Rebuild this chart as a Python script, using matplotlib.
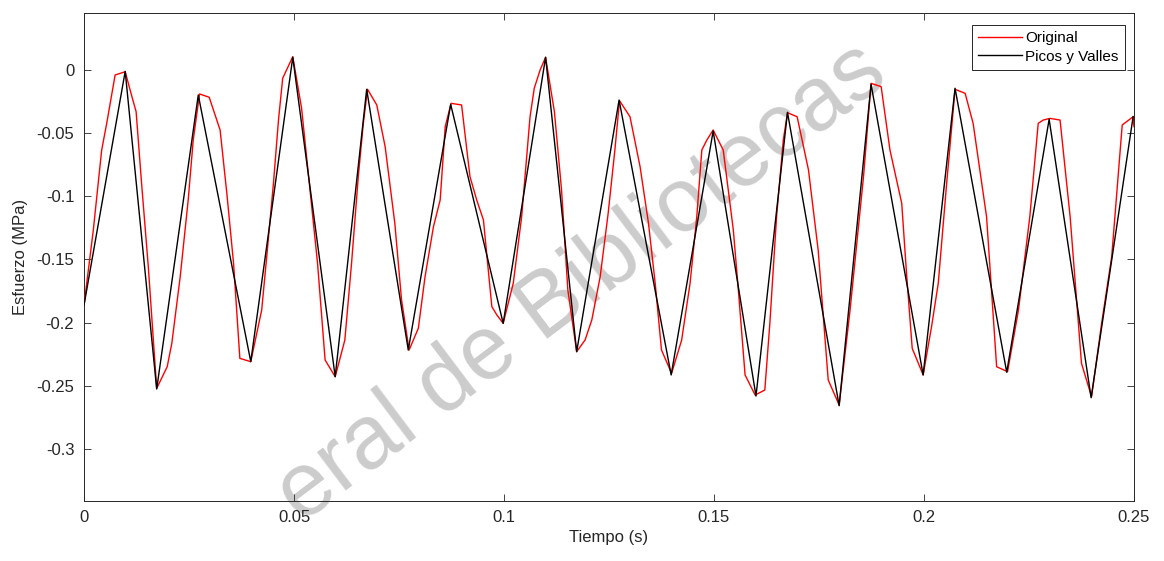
import matplotlib
matplotlib.use("Agg")
import matplotlib.pyplot as plt

plt.rcParams['font.family'] = ['Liberation Sans', 'DejaVu Sans']
plt.rcParams['axes.unicode_minus'] = False

# senal original (esfuerzo en MPa vs tiempo en s)
t_orig = [0, 0.0022, 0.0042, 0.0054, 0.0074, 0.0098, 0.0114, 0.0124, 0.0137, 0.0153,
          0.0173, 0.0198, 0.0209, 0.0229, 0.0248, 0.026, 0.0275, 0.0298, 0.0324, 0.034,
          0.0356, 0.0371, 0.0397, 0.0423, 0.0435, 0.0451, 0.0463, 0.0473, 0.0497, 0.0518,
          0.0538, 0.0556, 0.0574, 0.0598, 0.0621, 0.0637, 0.0653, 0.0665, 0.0675, 0.0697,
          0.0717, 0.074, 0.0756, 0.0774, 0.0796, 0.0812, 0.0832, 0.0848, 0.086, 0.0874,
          0.0899, 0.0919, 0.0935, 0.0951, 0.0971, 0.0983, 0.0998, 0.1022, 0.1042, 0.1062,
          0.1072, 0.1086, 0.1099, 0.112, 0.1137, 0.1152, 0.1173, 0.1193, 0.1209, 0.1229,
          0.1248, 0.1264, 0.1275, 0.13, 0.1324, 0.1344, 0.136, 0.1375, 0.1399, 0.1423,
          0.1443, 0.1459, 0.1471, 0.1483, 0.1498, 0.1522, 0.1546, 0.1558, 0.1574, 0.1598,
          0.1621, 0.1633, 0.1649, 0.1665, 0.1675, 0.1698, 0.1725, 0.1748, 0.1772, 0.1798,
          0.1824, 0.1856, 0.1874, 0.1898, 0.1919, 0.1947, 0.1959, 0.1972, 0.1998, 0.2018,
          0.2034, 0.2054, 0.2074, 0.2098, 0.2117, 0.2149, 0.2173, 0.2199, 0.2225, 0.2252,
          0.2272, 0.2284, 0.23, 0.2324, 0.2348, 0.2375, 0.2399, 0.2423, 0.2447, 0.2472,
          0.2498, 0.25]
s_orig = [-0.186, -0.127, -0.0635, -0.0424, -0.0042, -0.0016, -0.0213, -0.0332, -0.0898, -0.1557,
          -0.2519, -0.2348, -0.2163, -0.1636, -0.103, -0.0556, -0.0192, -0.0218, -0.0477, -0.0977,
          -0.153, -0.2282, -0.2308, -0.19, -0.1478, -0.0898, -0.0398, -0.0068, 0.0103, -0.0305,
          -0.0951, -0.153, -0.2295, -0.2427, -0.2137, -0.153, -0.0846, -0.0424, -0.0155, -0.0279,
          -0.0609, -0.1214, -0.182, -0.2216, -0.2044, -0.1636, -0.1241, -0.103, -0.045, -0.0266,
          -0.0279, -0.0846, -0.103, -0.1188, -0.1873, -0.1939, -0.2005, -0.1689, -0.1162, -0.0372,
          -0.0147, -0.0002, 0.0098, -0.0332, -0.0951, -0.1742, -0.2229, -0.2137, -0.1979, -0.1636,
          -0.1135, -0.0635, -0.0245, -0.0372, -0.0767, -0.1214, -0.1689, -0.2216, -0.24, -0.2137,
          -0.1689, -0.1162, -0.0635, -0.0556, -0.0477, -0.0635, -0.1267, -0.1742, -0.2413, -0.2572,
          -0.2532, -0.2005, -0.1162, -0.0556, -0.034, -0.0372, -0.0793, -0.1425, -0.2453, -0.2651,
          -0.19, -0.0846, -0.0108, -0.0134, -0.0635, -0.1056, -0.1636, -0.2203, -0.2413, -0.2032,
          -0.1689, -0.0898, -0.0155, -0.0187, -0.0424, -0.1162, -0.2348, -0.2387, -0.19, -0.1162,
          -0.0424, -0.0398, -0.0385, -0.0398, -0.1162, -0.2321, -0.2585, -0.2005, -0.1478, -0.0437,
          -0.0372, -0.045]

# picos y valles
t_pv = [0, 0.0098, 0.0173, 0.0272, 0.0397, 0.0497, 0.0598, 0.0673, 0.0772, 0.0873,
        0.0998, 0.1099, 0.1173, 0.1274, 0.1398, 0.1498, 0.16, 0.1675, 0.1798, 0.1874,
        0.1998, 0.2074, 0.2197, 0.2298, 0.2398, 0.2498]
s_pv = [-0.186, -0.0013, -0.2524, -0.020, -0.2308, 0.0098, -0.2427, -0.0155, -0.2216, -0.0274,
        -0.2005, 0.0098, -0.2229, -0.024, -0.2413, -0.0485, -0.258, -0.0337, -0.2656, -0.0116,
        -0.2413, -0.0147, -0.2392, -0.0392, -0.2593, -0.0371]

xticks = [0, 0.05, 0.1, 0.15, 0.2, 0.25]
xlabels = ['0', '0.05', '0.1', '0.15', '0.2', '0.25']
yticks = [0, -0.05, -0.1, -0.15, -0.2, -0.25, -0.3]
ylabels = ['0', '-0.05', '-0.1', '-0.15', '-0.2', '-0.25', '-0.3']

fig = plt.figure(figsize=(11.64, 5.61), dpi=100)
ax = fig.add_axes([0.0722, 0.1075, 0.902, 0.8693])

ax.plot(t_orig, s_orig, color='red', lw=1.0, label='Original', zorder=3)
ax.plot(t_pv, s_pv, color='black', lw=1.0, label='Picos y Valles', zorder=4)

ax.set_xlim(0, 0.25)
ax.set_ylim(-0.3407, 0.0448)
ax.set_xticks(xticks)
ax.set_xticklabels(xlabels)
ax.set_yticks(yticks)
ax.set_yticklabels(ylabels)
ax.tick_params(direction='in', top=True, right=True, length=5, width=0.6,
               colors='#262626', labelsize=12, pad=7)
for sp in ax.spines.values():
    sp.set_color('#262626')
    sp.set_linewidth(0.7)

ax.set_xlabel('Tiempo (s)', fontsize=12, color='#262626', labelpad=3)
ax.set_ylabel('Esfuerzo (MPa)', fontsize=12, color='#262626', labelpad=6)

leg = ax.legend(loc='upper right', bbox_to_anchor=(0.9914, 0.9754), borderaxespad=0,
                fontsize=11, fancybox=False, framealpha=1, edgecolor='#262626',
                handlelength=2.9, handletextpad=0.2, borderpad=0.4, labelspacing=0.3)
leg.get_frame().set_linewidth(0.7)

# marca de agua (parte visible)
ax.text(0.5, 0.495, 'eral de Bibliotecas', transform=fig.transFigure,
        rotation=37, rotation_mode='anchor', ha='center', va='center',
        fontsize=65, color='#cccccc', zorder=1, clip_on=False)

fig.savefig('out.png', dpi=100)
